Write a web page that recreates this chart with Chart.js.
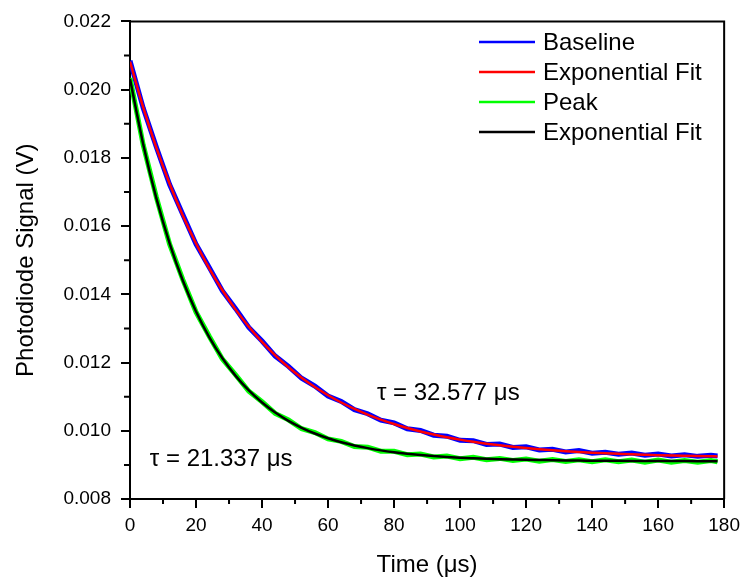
<!DOCTYPE html>
<html>
<head>
<meta charset="utf-8">
<script src="https://cdn.jsdelivr.net/npm/chart.js@4"></script>
<style>
  html, body { margin: 0; padding: 0; background: #fff; }
  #wrap { width: 746px; height: 579px; }
</style>
</head>
<body>
<div id="wrap"><canvas id="decayChart" width="746" height="579"></canvas></div>
<script>
// time grid in microseconds
const timeUs = [0, 4, 8, 12, 16, 20, 24, 28, 32, 36, 40, 44, 48, 52, 56, 60, 64, 68, 72, 76,
  80, 84, 88, 92, 96, 100, 104, 108, 112, 116, 120, 124, 128, 132, 136, 140, 144, 148, 152,
  156, 160, 164, 168, 172, 176, 178];

// measured baseline signal (V)
const baselineData = [0.02085, 0.01946, 0.01831, 0.01722, 0.01634, 0.01547, 0.01479, 0.01410,
  0.01358, 0.01303, 0.01263, 0.01219, 0.01189, 0.01154, 0.01131, 0.01102, 0.01086, 0.01062,
  0.01050, 0.01031, 0.01023, 0.01006, 0.01001, 0.00987, 0.00984, 0.00972, 0.00971, 0.00960,
  0.00961, 0.00951, 0.00953, 0.00944, 0.00946, 0.00938, 0.00942, 0.00934, 0.00937, 0.00931,
  0.00935, 0.00928, 0.00932, 0.00926, 0.00930, 0.00925, 0.00928, 0.00926];

// exponential fit to baseline, tau = 32.577 us
const baselineFit = [0.02082, 0.019477, 0.018290, 0.017239, 0.016311, 0.015489, 0.014762,
  0.014119, 0.013551, 0.013048, 0.012604, 0.012210, 0.011862, 0.011555, 0.011283, 0.011042,
  0.010829, 0.010641, 0.010474, 0.010327, 0.010197, 0.010082, 0.009980, 0.009890, 0.009810,
  0.009740, 0.009677, 0.009622, 0.009573, 0.009530, 0.009492, 0.009458, 0.009428, 0.009402,
  0.009379, 0.009358, 0.009340, 0.009324, 0.009309, 0.009297, 0.009286, 0.009276, 0.009267,
  0.009259, 0.009252, 0.009249];

// measured peak signal (V)
const peakData = [0.02034, 0.01838, 0.01684, 0.01547, 0.01443, 0.01348, 0.01277, 0.01210,
  0.01164, 0.01116, 0.01085, 0.01051, 0.01032, 0.01006, 0.00995, 0.00976, 0.00969, 0.00954,
  0.00952, 0.00940, 0.00940, 0.00930, 0.00932, 0.00923, 0.00926, 0.00918, 0.00922, 0.00915,
  0.00919, 0.00913, 0.00917, 0.00911, 0.00916, 0.00910, 0.00915, 0.00909, 0.00915, 0.00909,
  0.00914, 0.00908, 0.00914, 0.00908, 0.00913, 0.00908, 0.00913, 0.00909];

// exponential fit to peak, tau = 21.337 us
const peakFit = [0.020317, 0.018401, 0.016812, 0.015495, 0.014403, 0.013497, 0.012747,
  0.012125, 0.011609, 0.011181, 0.010827, 0.010533, 0.010289, 0.010087, 0.009919, 0.009780,
  0.009665, 0.009570, 0.009491, 0.009425, 0.009371, 0.009326, 0.009288, 0.009257, 0.009232,
  0.009210, 0.009193, 0.009178, 0.009166, 0.009156, 0.009147, 0.009141, 0.009135, 0.009130,
  0.009126, 0.009123, 0.009120, 0.009118, 0.009116, 0.009114, 0.009113, 0.009112, 0.009111,
  0.009110, 0.009109, 0.009109];

const seriesLabels = ['Baseline', 'Exponential Fit', 'Peak', 'Exponential Fit'];
const seriesColors = ['#0000ff', '#ff0000', '#00ff00', '#000000'];

const xTicksMajor = [0, 20, 40, 60, 80, 100, 120, 140, 160, 180];
const yTicksMajor = [0.008, 0.010, 0.012, 0.014, 0.016, 0.018, 0.020, 0.022];

const tauNotes = [
  { text: '\u03c4 = 32.577 \u03bcs', x: 74.8, y: 0.01110 },
  { text: '\u03c4 = 21.337 \u03bcs', x: 6.0, y: 0.00916 }
];

const FONT = '"Liberation Sans", Arial, sans-serif';

function toPoints(values) {
  return values.map((v, i) => ({ x: timeUs[i], y: v }));
}

// frame, minor ticks, legend and tau notes
const decorations = {
  id: 'decorations',
  afterDraw(chart) {
    const ctx = chart.ctx;
    const area = chart.chartArea;
    const xs = chart.scales.x;
    const ys = chart.scales.y;
    ctx.save();
    ctx.strokeStyle = '#000';
    ctx.lineWidth = 2;
    ctx.beginPath();
    ctx.moveTo(area.left, area.top);
    ctx.lineTo(area.right, area.top);
    ctx.lineTo(area.right, area.bottom);
    ctx.stroke();

    // minor ticks
    ctx.beginPath();
    for (let i = 0; i < xTicksMajor.length - 1; i++) {
      const px = xs.getPixelForValue((xTicksMajor[i] + xTicksMajor[i + 1]) / 2);
      ctx.moveTo(px, area.bottom);
      ctx.lineTo(px, area.bottom + 5);
    }
    for (let i = 0; i < yTicksMajor.length - 1; i++) {
      const py = ys.getPixelForValue((yTicksMajor[i] + yTicksMajor[i + 1]) / 2);
      ctx.moveTo(area.left, py);
      ctx.lineTo(area.left - 6, py);
    }
    ctx.stroke();

    // legend
    ctx.font = '24px ' + FONT;
    ctx.textBaseline = 'middle';
    ctx.textAlign = 'left';
    chart.data.datasets.forEach((ds, i) => {
      const y = 42 + i * 30;
      ctx.strokeStyle = ds.legendColor;
      ctx.lineWidth = 2.5;
      ctx.beginPath();
      ctx.moveTo(479, y);
      ctx.lineTo(535, y);
      ctx.stroke();
      ctx.fillStyle = '#000';
      ctx.fillText(ds.label, 543, y + 1);
    });

    // tau annotations
    ctx.font = '24px ' + FONT;
    tauNotes.forEach(n => {
      ctx.fillText(n.text, xs.getPixelForValue(n.x), ys.getPixelForValue(n.y));
    });
    ctx.restore();
  }
};

const ctx = document.getElementById('decayChart').getContext('2d');

new Chart(ctx, {
  type: 'line',
  data: {
    datasets: [
      { label: seriesLabels[0], data: toPoints(baselineData), borderColor: seriesColors[0],
        legendColor: seriesColors[0], borderWidth: 5, order: 4, tension: 0 },
      { label: seriesLabels[1], data: toPoints(baselineFit), borderColor: seriesColors[1],
        legendColor: seriesColors[1], borderWidth: 2.5, order: 3, cubicInterpolationMode: 'monotone' },
      { label: seriesLabels[2], data: toPoints(peakData), borderColor: seriesColors[2],
        legendColor: seriesColors[2], borderWidth: 5, order: 2, tension: 0 },
      { label: seriesLabels[3], data: toPoints(peakFit), borderColor: seriesColors[3],
        legendColor: seriesColors[3], borderWidth: 2.5, order: 1, cubicInterpolationMode: 'monotone' }
    ]
  },
  options: {
    responsive: false,
    animation: false,
    layout: { padding: { top: 16, right: 18, left: 0, bottom: 0 } },
    elements: { point: { radius: 0 } },
    plugins: { legend: { display: false }, tooltip: { enabled: false } },
    scales: {
      x: {
        type: 'linear',
        min: 0,
        max: 180,
        afterFit(scale) { scale.height = 80; },
        afterBuildTicks(scale) { scale.ticks = xTicksMajor.map(v => ({ value: v })); },
        ticks: { color: '#000', font: { family: FONT, size: 19 }, padding: 6, maxRotation: 0 },
        grid: { drawOnChartArea: false, tickLength: 9, color: '#000', lineWidth: 2 },
        border: { display: true, color: '#000', width: 2 },
        title: { display: true, text: 'Time (\u03bcs)', color: '#000',
          font: { family: FONT, size: 24, lineHeight: 1.1 }, padding: { top: 0, bottom: 0 } }
      },
      y: {
        min: 0.008,
        max: 0.022,
        afterFit(scale) { scale.width = 130; },
        afterBuildTicks(scale) { scale.ticks = yTicksMajor.map(v => ({ value: v })); },
        ticks: { color: '#000', font: { family: FONT, size: 19 }, padding: 10,
          callback: v => v.toFixed(3) },
        grid: { drawOnChartArea: false, tickLength: 9, color: '#000', lineWidth: 2 },
        border: { display: true, color: '#000', width: 2 },
        title: { display: true, text: 'Photodiode Signal (V)', color: '#000',
          font: { family: FONT, size: 24, lineHeight: 1.1 }, padding: { top: 13, bottom: 0 } }
      }
    }
  },
  plugins: [decorations]
});
</script>
</body>
</html>
